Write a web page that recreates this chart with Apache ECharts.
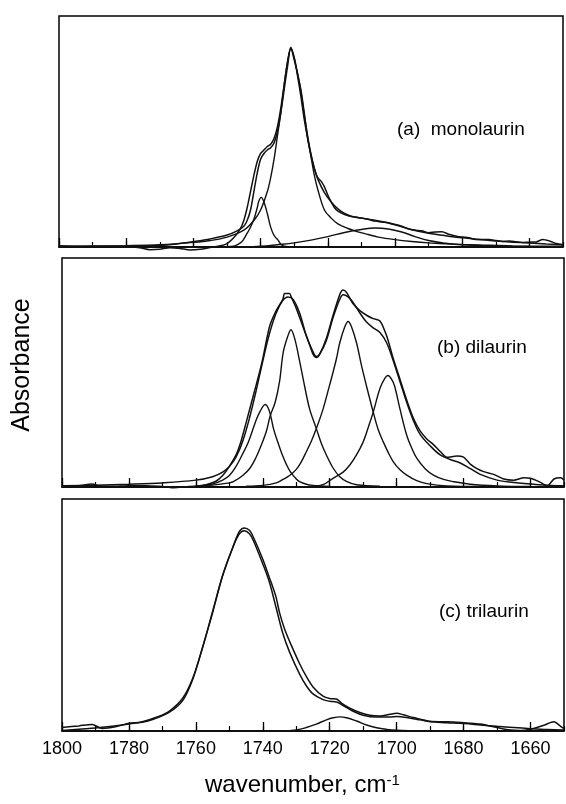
<!DOCTYPE html>
<html>
<head>
<meta charset="utf-8">
<script src="https://cdn.jsdelivr.net/npm/echarts@6/dist/echarts.min.js"></script>
<style>
html,body{margin:0;padding:0;background:#fff;}
#chart{width:566px;height:804px;}
</style>
</head>
<body>
<div id="chart"></div>
<script>
// x axis: wavenumber, cm-1 (reversed, 1800 -> 1650)
var majorTicks = [1800, 1780, 1760, 1740, 1720, 1700, 1680, 1660];

// y values are % of panel height
// (a) monolaurin
var monoMeasured = [[1800,0.5],[1795,0.3],[1790,0.4],[1785,0.2],[1780,0.2],[1776,-0.3],[1773,-1.2],[1770,-1],[1767,-0.3],[1764,-0.6],[1761,-1.3],[1758,-1],[1755,-0.2],[1752,0.5],[1750,1.5],[1748,4],[1746,8],[1745,11.5],[1744,17],[1743,24],[1742,31],[1741,37],[1740,40.5],[1739,42],[1738,43.5],[1737,44.5],[1736,47],[1735,52],[1734,60],[1733,70],[1732,80],[1731,86.5],[1730,82],[1729,75],[1728,67],[1727,57],[1726,48],[1725,40],[1724,34],[1723,30],[1722,28.5],[1721,26],[1720,22.5],[1719,19.5],[1718,17],[1717,15.5],[1715,14],[1713,13.2],[1711,12.8],[1708,12],[1706,11.2],[1704,10.8],[1702,10.5],[1700,9.8],[1698,9],[1696,7.8],[1694,7.3],[1692,7],[1690,6.2],[1688,6.5],[1686,6.6],[1684,5.5],[1682,4.8],[1680,4.3],[1678,4],[1676,3.2],[1674,3.3],[1672,3.2],[1670,2.8],[1668,2.4],[1666,2.6],[1664,2.3],[1662,2],[1660,2.1],[1658,2.2],[1656,3.3],[1654,2.6],[1652,1.5],[1650,1]];
var monoFit = [[1800,0.1],[1790,0.2],[1780,0.4],[1770,0.7],[1765,1.3],[1760,2.3],[1755,3.5],[1750,5.2],[1747,7],[1745,9],[1744,11.5],[1743,16],[1742,24],[1741,32],[1740,38],[1739,40.5],[1738,42],[1737,43],[1736,45],[1735,50],[1734,58],[1733,68],[1732,78],[1731,86],[1730,81],[1729,75],[1728,68],[1727,58],[1726,47],[1725,40],[1724,34],[1723,29.5],[1721,23.5],[1719,19.5],[1717,16.5],[1715,14.5],[1713,13.3],[1710,12.5],[1707,11.8],[1704,11],[1701,10],[1698,8.8],[1695,7.5],[1690,6],[1685,4.9],[1680,4],[1675,3.2],[1670,2.6],[1665,2.1],[1660,1.7],[1655,1.3],[1650,1]];
var monoBand1 = [[1800,0.3],[1790,0.4],[1780,0.6],[1770,1],[1760,2],[1755,2.8],[1750,4.3],[1745,7.3],[1742,11.5],[1740,16],[1738,24],[1737,30],[1736,38],[1735,48],[1734,58],[1733,70],[1732,80],[1731,86],[1730,82],[1729,74],[1728,65],[1727,55],[1726,47],[1725,39],[1724,31],[1723,25],[1721,16],[1719,12.5],[1717,10],[1714,8],[1712,7],[1708,5.4],[1705,4.3],[1700,3.2],[1695,2.4],[1690,1.8],[1685,1.4],[1680,1.1],[1675,0.9],[1665,0.5],[1650,0.3]];
var monoBand2 = [[1752,0],[1749,0.2],[1747.7,0.5],[1746,1.8],[1745.2,3],[1744,6],[1743.2,8],[1742,12],[1741,17],[1740.5,20],[1739.8,21.5],[1739,19.5],[1738,14.5],[1737,8.6],[1736,5],[1734.8,3],[1734,1.2],[1733,0.4],[1730,0]];
var monoBand3 = [[1745,0],[1740,0.3],[1735,1],[1730,1.8],[1725,3],[1720,4.5],[1715,6.3],[1710,7.6],[1706,8.2],[1702,7.8],[1698,6.5],[1694,4.5],[1690,2.8],[1685,1.6],[1680,0.9],[1670,0.4],[1660,0.2],[1650,0.1]];

// (b) dilaurin
var diMeasured = [[1800,0.3],[1795,0.5],[1791,1.3],[1789,0.5],[1785,0.3],[1780,0.6],[1775,0.5],[1770,0.2],[1767,-0.3],[1764,0],[1760,0.4],[1757,1],[1754,2.5],[1752,5],[1750,9],[1748,14],[1746.5,20],[1745,28],[1743,39],[1741,50],[1740,56],[1738,70],[1736,77],[1734,82],[1733.5,84.5],[1732,84.5],[1731.5,83],[1730,78],[1728,70],[1726,62],[1725,58],[1724,56.5],[1723,58],[1721,65],[1719,75],[1717,84],[1716,86],[1715,85],[1713,80],[1711,77],[1709,75],[1707,73.5],[1705,72.5],[1703,66],[1701,56],[1699,47],[1697,38],[1695,30],[1693,24.5],[1691,21],[1689,18.5],[1687,15.5],[1685,13],[1682,13.5],[1680,13],[1678,10],[1676,8],[1674,6.7],[1671,5.5],[1668,3.5],[1665,3],[1662,4],[1660,3.8],[1657,2],[1655,0.5],[1653,3.5],[1651,4],[1650,3]];
var diFit = [[1800,0.5],[1790,0.8],[1780,1.2],[1770,1.8],[1760,3],[1755,4.5],[1752,6.5],[1750,9],[1748,13],[1746,20],[1744,30],[1742,42],[1740,55],[1738,67],[1736,76],[1734,81.5],[1732.5,83],[1731,82],[1729,76],[1727,66],[1725,59],[1724,57],[1723,58],[1721,64],[1719,74],[1717,82],[1716,84],[1714.5,83],[1713,80.5],[1711,76],[1709,72],[1707,69.5],[1705,67.5],[1703,63],[1701,55],[1699,46],[1697,37],[1695,29],[1693,23],[1690,18],[1687,14],[1684,12],[1681,10.5],[1678,8],[1675,5.5],[1670,3],[1665,2],[1660,1.3],[1655,0.8],[1650,0.5]];
var diBand1 = [[1760,0.3],[1755,1.3],[1752,3],[1750,5],[1748,9],[1746,14.5],[1744.3,19.7],[1742.3,28],[1741,32.5],[1739.3,36],[1738,33],[1736.8,25.5],[1735.5,19.5],[1734.3,14.5],[1733,10],[1731.8,6.7],[1730,3.5],[1729,2.3],[1727,1.2],[1725,0.7],[1720,0.2]];
var diBand2 = [[1760,0.3],[1755,0.8],[1750,1.8],[1748.8,2.3],[1746,5],[1743.8,8.3],[1742,13],[1740.8,17],[1739,24],[1737.8,31],[1736.3,37],[1735,46],[1733.9,58.8],[1732.5,66],[1731.6,68.7],[1730.5,65],[1729,55],[1727.5,44],[1726,34],[1724,25.5],[1722.5,19],[1721,14],[1719,8.3],[1717,4.5],[1715,2.5],[1712,1],[1705,0.3]];
var diBand3 = [[1745,0.3],[1740,0.7],[1736,1.8],[1734,3.3],[1732,5],[1730,7.7],[1728.5,11],[1727,15.4],[1725.5,20],[1724,25.5],[1722,34],[1720.5,42],[1719.5,47.4],[1718,56],[1717,63],[1715.5,70],[1714.5,72.3],[1713.5,70],[1712,63],[1710.5,53],[1709,44],[1707,32.7],[1705.5,25],[1704,19.7],[1702.5,15],[1701,11],[1699,7.5],[1697,5.2],[1694,2.8],[1691,1.5],[1685,0.5],[1675,0.2]];
var diBand4 = [[1725,0.3],[1722,1],[1719,3.8],[1716,6.5],[1714,9.6],[1712,14],[1710,19.7],[1708.5,26],[1707,32.7],[1705,43],[1703.5,47.5],[1702.6,48.7],[1701.5,47],[1700.6,44],[1699,34],[1697,22.6],[1695.5,17],[1694,12.6],[1691.5,8],[1689,5.2],[1686,3.3],[1683,2.3],[1678,1.2],[1670,0.5],[1660,0.2]];

// (c) trilaurin
var triMeasured = [[1800,1.5],[1795,2.2],[1791,2.8],[1788,1.1],[1784,1.8],[1780,3.3],[1776,3.8],[1772.5,5.2],[1768,8],[1764,13],[1761,22],[1758,36],[1755,51],[1752,67],[1749,79],[1747,86],[1745.5,87.5],[1744,86.5],[1742.8,83.5],[1740,74],[1738,66],[1737,62],[1736,57.5],[1735,51],[1733.5,44],[1731.5,37],[1729,29],[1727,23.5],[1725,19],[1722,15],[1720,14],[1718,13.8],[1716.5,12],[1714,9.8],[1711,8],[1708,6.8],[1705,6.5],[1702,7.2],[1700,7.6],[1698,7],[1695,5.8],[1690,4.2],[1686,4],[1682,3.8],[1679,3.5],[1675,3],[1670,1.5],[1666,0.4],[1663,0.2],[1660,0.8],[1656,2.5],[1653,4],[1651,2],[1650,1]];
var triFit = [[1800,0.2],[1795,0.8],[1790,1.3],[1785,2],[1780,3],[1776,4],[1772,5.8],[1768,8.5],[1764,14],[1761,22.5],[1758,36],[1755,51.5],[1752,67],[1749,79],[1747,85],[1745.5,86.3],[1744,85],[1742.8,82],[1740,72],[1738,64],[1736,53],[1734,42],[1732,34],[1729,24.5],[1727,19.5],[1725,16],[1722,13.5],[1720,12.8],[1718,12.5],[1716,11],[1713,8.5],[1710,6.8],[1706,6],[1702,6],[1700,6.2],[1697,5.8],[1693,4.8],[1690,4],[1685,3.6],[1680,3.2],[1675,2.6],[1670,2],[1665,1.5],[1660,1],[1655,0.6],[1650,0.4]];
var triBand2 = [[1735,0],[1730,0.5],[1727,1.5],[1724,3],[1721,4.8],[1719,5.7],[1717,6.1],[1715,5.7],[1712,4.3],[1709,2.6],[1706,1.4],[1703,0.7],[1700,0.3],[1695,0.1],[1690,0]];

var FONT = '"Liberation Sans", Arial, sans-serif';

var grids = [
	{left: 59, right: 3, top: 16, height: 231},
	{left: 62, right: 2, top: 258, height: 229},
	{left: 62, right: 2, top: 499, height: 232}
];

function xAxes(gi, withLabels){
	var major = {
		type: 'value', gridIndex: gi, position: 'bottom', min: 1650, max: 1800, inverse: true,
		axisLine: {show: true, lineStyle: {color: '#000', width: 1.5}},
		axisTick: {show: true, inside: true, length: 9, customValues: majorTicks, lineStyle: {color: '#000', width: 1.3}},
		axisLabel: withLabels ? {show: true, customValues: majorTicks, color: '#000', fontSize: 18, fontFamily: FONT, margin: 9,
			formatter: function(v){ return String(v); }} : {show: false},
		splitLine: {show: false}
	};
	var minor = {
		type: 'value', gridIndex: gi, position: 'bottom', min: 1650, max: 1800, interval: 10, inverse: true,
		axisLine: {show: false},
		axisTick: {show: true, inside: true, length: 5, lineStyle: {color: '#000', width: 1.2}},
		axisLabel: {show: false},
		splitLine: {show: false}
	};
	return [major, minor];
}

function curve(data, gi, smooth, width){
	return {
		type: 'line', data: data, xAxisIndex: gi * 2, yAxisIndex: gi,
		showSymbol: false, smooth: smooth, clip: false, silent: true,
		lineStyle: {color: '#111', width: width || 1.4}
	};
}

var xAxisList = [].concat(xAxes(0, false), xAxes(1, false), xAxes(2, true));

var option = {
	animation: false,
	backgroundColor: '#fff',
	grid: grids.map(function(g){
		return {left: g.left, right: g.right, top: g.top, height: g.height, show: true, borderColor: '#000', borderWidth: 1.5, backgroundColor: 'transparent'};
	}),
	xAxis: xAxisList,
	yAxis: [0, 1, 2].map(function(i){
		return {type: 'value', gridIndex: i, min: 0, max: 100, show: false};
	}),
	series: [
		curve(monoMeasured, 0, 0.25, 1.5),
		curve(monoFit, 0, 0.35, 1.5),
		curve(monoBand1, 0, 0.35),
		curve(monoBand2, 0, 0.35),
		curve(monoBand3, 0, 0.4),
		curve(diMeasured, 1, 0.25, 1.5),
		curve(diFit, 1, 0.35, 1.5),
		curve(diBand1, 1, 0.35),
		curve(diBand2, 1, 0.35),
		curve(diBand3, 1, 0.35),
		curve(diBand4, 1, 0.35),
		curve(triMeasured, 2, 0.3, 1.5),
		curve(triFit, 2, 0.35, 1.5),
		curve(triBand2, 2, 0.4)
	],
	graphic: [
		{type: 'text', left: 397, top: 120, style: {text: '(a)  monolaurin', fontSize: 19, fontFamily: FONT, fill: '#000'}},
		{type: 'text', left: 437, top: 338, style: {text: '(b) dilaurin', fontSize: 19, fontFamily: FONT, fill: '#000'}},
		{type: 'text', left: 439, top: 602, style: {text: '(c) trilaurin', fontSize: 19, fontFamily: FONT, fill: '#000'}},
		{type: 'text', x: 22, y: 365, rotation: Math.PI / 2,
			style: {text: 'Absorbance', fontSize: 25, fontFamily: FONT, fill: '#000', align: 'center', verticalAlign: 'middle'}},
		{type: 'text', left: 205, top: 773,
			style: {text: '{a|wavenumber, cm}{b|-1}', fill: '#000',
				rich: {a: {fontSize: 24, fontFamily: FONT, verticalAlign: 'bottom'}, b: {fontSize: 15, fontFamily: FONT, verticalAlign: 'top'}}}}
	]
};

var myChart = echarts.init(document.getElementById('chart'), null, {renderer: 'canvas'});
myChart.setOption(option);
</script>
</body>
</html>
